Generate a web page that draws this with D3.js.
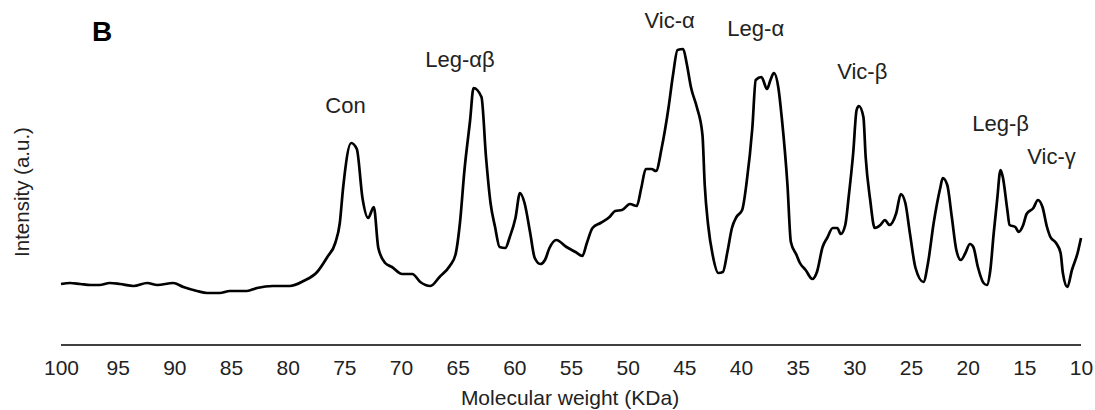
<!DOCTYPE html>
<html>
<head>
<meta charset="utf-8">
<script src="https://cdn.jsdelivr.net/npm/d3@7"></script>
<style>
  html, body { margin: 0; padding: 0; background: #fff; }
  svg { display: block; font-family: "Liberation Sans", Arial, sans-serif; }
</style>
</head>
<body>
<svg id="chart" width="1095" height="410"></svg>
<script>
// Molecular weight (KDa), left to right (high to low)
const kda = [100.0, 99.2, 98.3, 97.4, 96.6, 95.7, 94.8, 93.6, 92.4, 91.5, 90.1, 89.2, 88.0, 87.1, 86.0, 85.1, 83.6, 82.7, 81.3, 79.8,
  78.6, 77.4, 76.5, 75.8, 75.4, 75.1, 74.4, 73.9, 73.4, 72.9, 72.4, 72.0, 71.4, 70.8, 69.9, 69.0, 68.3, 67.4, 66.6, 65.7,
  65.2, 64.8, 64.4, 63.9, 63.6, 62.9, 62.5, 62.1, 61.7, 61.3, 60.8, 60.4, 59.9, 59.5, 59.1, 58.6, 58.2, 57.7, 57.3, 56.9,
  56.3, 55.4, 54.6, 54.0, 53.6, 53.1, 52.4, 51.6, 51.1, 50.5, 49.8, 49.2, 48.8, 48.4, 47.9, 47.5, 47.0, 46.4, 46.0, 45.6,
  45.1, 44.8, 44.4, 43.9, 43.4, 43.2, 42.9, 42.5, 42.0, 41.6, 41.2, 40.8, 40.4, 39.9, 39.5, 39.0, 38.7, 38.2, 37.7, 37.4,
  37.1, 36.7, 36.4, 35.9, 35.6, 35.1, 34.8, 34.3, 33.7, 33.3, 32.8, 32.4, 31.9, 31.5, 31.2, 30.8, 30.5, 30.1, 29.8, 29.6,
  29.2, 29.0, 28.6, 28.2, 27.7, 27.3, 26.9, 26.3, 25.9, 25.5, 25.1, 24.6, 23.9, 23.5, 23.0, 22.4, 22.2, 21.8, 21.4, 21.0,
  20.6, 20.2, 19.8, 19.5, 19.1, 18.6, 18.3, 18.0, 17.7, 17.4, 17.1, 16.9, 16.5, 16.3, 15.8, 15.5, 15.1, 14.8, 14.2, 13.8,
  13.4, 13.0, 12.7, 12.2, 11.8, 11.6, 11.2, 10.8, 10.3, 10.0];
// Intensity (a.u.)
const intensity = [61, 62, 61, 60, 60, 62, 61, 59, 62, 60, 62, 58, 54, 52, 52, 54, 54, 57, 59, 59,
  64, 73, 88, 102, 122, 158, 202, 196, 147, 127, 138, 97, 82, 78, 71, 71, 63, 59, 68, 79,
  90, 122, 175, 225, 257, 248, 188, 142, 118, 98, 97, 108, 127, 152, 142, 112, 87, 81, 85, 97,
  105, 98, 93, 89, 102, 117, 122, 128, 134, 135, 141, 139, 157, 176, 176, 174, 197, 237, 270, 295,
  296, 282, 257, 238, 210, 160, 120, 90, 72, 73, 93, 117, 128, 135, 163, 217, 265, 268, 256, 265,
  272, 257, 227, 160, 103, 90, 82, 75, 66, 73, 98, 107, 117, 117, 111, 120, 148, 192, 235, 239,
  228, 188, 145, 117, 120, 125, 120, 132, 151, 142, 112, 77, 63, 82, 122, 158, 167, 160, 128, 95,
  85, 92, 101, 98, 78, 62, 60, 75, 112, 145, 175, 168, 135, 120, 118, 113, 120, 131, 137, 145,
  138, 118, 108, 102, 92, 72, 58, 75, 92, 107];
const xTicks = [100, 95, 90, 85, 80, 75, 70, 65, 60, 55, 50, 45, 40, 35, 30, 25, 20, 15, 10];
const peakNames = ["Con", "Leg-αβ", "Vic-α", "Leg-α", "Vic-β", "Leg-β", "Vic-γ"];
const peakKda = [74.9, 64.8, 46.3, 38.7, 29.3, 17.1, 12.6];
const peakLabelLevel = [232, 278, 317, 309, 266, 214, 181];

const svg = d3.select("#chart");
const x = d3.scaleLinear().domain([100, 10]).range([61, 1081]);
const y = d3.scaleLinear().domain([0, 300]).range([345, 45]);

const data = kda.map((k, i) => ({ k, v: intensity[i] }));

// x axis
const ax = svg.append("g")
  .attr("transform", `translate(0,${y(0)})`)
  .call(d3.axisBottom(x).tickValues(xTicks).tickFormat(d3.format("d")).tickSize(0).tickPadding(15));
ax.select(".domain").attr("stroke", "#000").attr("stroke-width", 1.6).attr("d", `M${x(100)},0H${x(10)}`);
ax.selectAll(".tick text").attr("font-size", 21).attr("fill", "#222").attr("font-family", "Liberation Sans, Arial, sans-serif");

// curve
svg.append("path")
  .datum(data)
  .attr("fill", "none")
  .attr("stroke", "#000")
  .attr("stroke-width", 2.7)
  .attr("stroke-linejoin", "round")
  .attr("d", d3.line().x(d => x(d.k)).y(d => y(d.v)).curve(d3.curveMonotoneX));

// peak labels
svg.append("g").selectAll("text")
  .data(peakNames)
  .join("text")
  .attr("x", (d, i) => x(peakKda[i]))
  .attr("y", (d, i) => y(peakLabelLevel[i]))
  .attr("text-anchor", "middle")
  .attr("font-size", 22)
  .attr("fill", "#222")
  .text(d => d);

// axis titles
svg.append("text")
  .attr("x", 570).attr("y", 405)
  .attr("text-anchor", "middle")
  .attr("font-size", 21)
  .attr("fill", "#222")
  .text("Molecular weight (KDa)");

svg.append("text")
  .attr("transform", "translate(29,192) rotate(-90)")
  .attr("text-anchor", "middle")
  .attr("font-size", 20.5)
  .attr("fill", "#222")
  .text("Intensity (a.u.)");

svg.append("text")
  .attr("x", 92).attr("y", 41)
  .attr("font-size", 28)
  .attr("font-weight", "bold")
  .attr("fill", "#000")
  .text("B");
</script>
</body>
</html>
